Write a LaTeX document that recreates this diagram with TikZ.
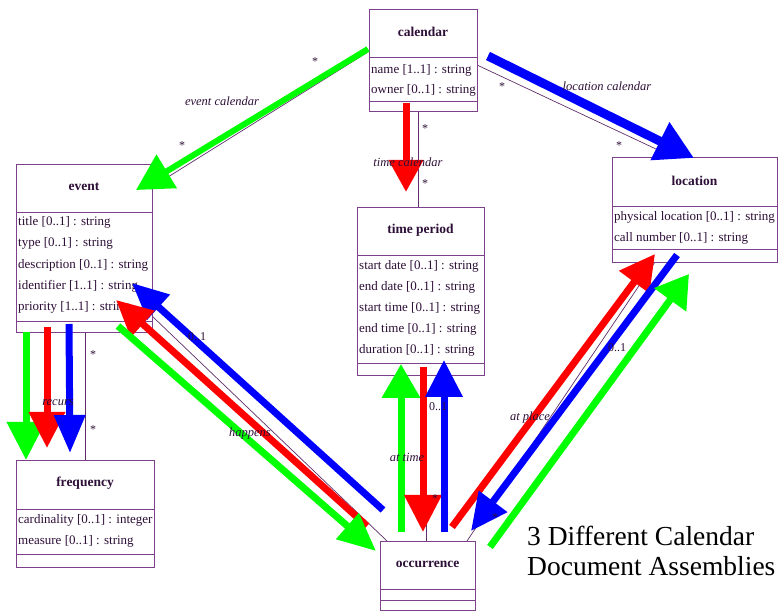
\documentclass[tikz,border=0pt]{standalone}
\usepackage{fontspec}
\setmainfont{Liberation Serif}
\usetikzlibrary{arrows.meta}

\definecolor{boxline}{RGB}{125,65,140}
\definecolor{inktext}{RGB}{45,15,55}
\definecolor{linkline}{RGB}{95,45,105}
\definecolor{fatgreen}{RGB}{0,255,0}
\definecolor{fatred}{RGB}{255,0,0}
\definecolor{fatblue}{RGB}{0,0,255}

\tikzset{
  umlbox/.style={draw=boxline, line width=0.9pt, fill=white, inner sep=0pt, anchor=north west},
  umlsep/.style={draw=boxline, line width=0.9pt},
  ctitle/.style={font=\fontsize{13.5}{15}\selectfont\bfseries, text=inktext, inner sep=0pt},
  cattr/.style={font=\fontsize{13}{15}\selectfont, text=inktext, anchor=west, inner sep=0pt},
  link/.style={draw=linkline, line width=0.7pt},
  role/.style={font=\fontsize{12.5}{14}\selectfont\itshape, text=inktext, inner sep=0pt},
  mult/.style={font=\fontsize{12}{14}\selectfont, text=inktext, inner sep=0pt},
  fat/.style={line width=7pt},
  tiphead/.style 2 args={-{Triangle[length=#1,width=#2]}},
  banner/.style={font=\fontsize{27.5}{30}\selectfont, text=black, anchor=base west, inner sep=0pt},
}

% class box: name, left, right, top, header separator, attribute separator, bottom, title
\newcommand{\classbox}[8]{%
  \node[umlbox, minimum width={(#3-#2)*1pt}, minimum height={(#7-#4)*1pt}] (#1) at (#2,#4) {};
  \draw[umlsep] (#2,#5) -- (#3,#5);
  \draw[umlsep] (#2,#6) -- (#3,#6);
  \node[ctitle] (#1-title) at ({(#2+#3)/2},{(#4+#5)/2-1}) {#8};
}

\begin{document}
\begin{tikzpicture}[x=1pt,y=-1pt]
\useasboundingbox (0,0) rectangle (780,612);

% association end points
\coordinate (calW)  at (368,52);
\coordinate (evNE)  at (152,187);
\coordinate (calS)  at (418,111);
\coordinate (tpN)   at (418,207);
\coordinate (calE)  at (477,65);
\coordinate (locN)  at (673,157);
\coordinate (evS)   at (85,332);
\coordinate (frN)   at (85,460);
\coordinate (evE)   at (152,316);
\coordinate (ocNW)  at (387,541);
\coordinate (tpS)   at (426,375);
\coordinate (ocN)   at (426,541);
\coordinate (locS)  at (655,262);
\coordinate (ocNE)  at (467,541);

% thin association lines
\draw[link] (calW) -- (evNE);
\draw[link] (calS) -- (tpN);
\draw[link] (calE) -- (locN);
\draw[link] (evS) -- (frN);
\draw[link] (evE) -- (ocNW);
\draw[link] (tpS) -- (ocN);
\draw[link] (locS) -- (ocNE);

% classes
\classbox{calendar}{369}{477}{9}{57}{101}{111}{calendar}
\node[cattr] (calendar-a1) at (371,70) {name [1..1] : string};
\node[cattr] (calendar-a2) at (371,90) {owner [0..1] : string};

\classbox{event}{16}{152}{164}{212}{321}{332}{event}
\node[cattr] (event-a1) at (18,222) {title [0..1] : string};
\node[cattr] (event-a2) at (18,243) {type [0..1] : string};
\node[cattr] (event-a3) at (18,265) {description [0..1] : string};
\node[cattr] (event-a4) at (18,286) {identifier [1..1] : string};
\node[cattr] (event-a5) at (18,307) {priority [1..1] : string};

\classbox{timeperiod}{357}{484}{207}{255}{363}{375}{time period}
\node[cattr] (timeperiod-a1) at (359,266) {start date [0..1] : string};
\node[cattr] (timeperiod-a2) at (359,287) {end date [0..1] : string};
\node[cattr] (timeperiod-a3) at (359,308) {start time [0..1] : string};
\node[cattr] (timeperiod-a4) at (359,329) {end time [0..1] : string};
\node[cattr] (timeperiod-a5) at (359,350) {duration [0..1] : string};

\classbox{location}{612}{777}{157}{206}{249}{262}{location}
\node[cattr] (location-a1) at (614,217) {physical location [0..1] : string};
\node[cattr] (location-a2) at (614,238) {call number [0..1] : string};

\classbox{frequency}{16}{154}{460}{509}{554}{567}{frequency}
\node[cattr] (frequency-a1) at (18,520) {cardinality [0..1] : integer};
\node[cattr] (frequency-a2) at (18,541) {measure [0..1] : string};

\classbox{occurrence}{380}{475}{541}{589}{600}{610}{occurrence}

% fat coloured assembly arrows
\coordinate (g1s) at (368,49);  \coordinate (g1t) at (136,190);
\coordinate (r2s) at (406,103); \coordinate (r2t) at (406,192);
\coordinate (b3s) at (488,56);  \coordinate (b3t) at (694,158);
\coordinate (g4s) at (26,332);  \coordinate (g4t) at (26,460);
\coordinate (r5s) at (47,327);  \coordinate (r5t) at (47,448);
\coordinate (b6s) at (69,324);  \coordinate (b6t) at (70,453);
\coordinate (b7s) at (383,510); \coordinate (b7t) at (132,283);
\coordinate (r8s) at (367,526); \coordinate (r8t) at (116,300);
\coordinate (g9s) at (118,326); \coordinate (g9t) at (376,551);
\coordinate (g10s) at (401,532); \coordinate (g10t) at (401,364);
\coordinate (r11s) at (423,367); \coordinate (r11t) at (423,532);
\coordinate (b12s) at (444,532); \coordinate (b12t) at (444,360);
\coordinate (r13s) at (452,527); \coordinate (r13t) at (655,254);
\coordinate (b14s) at (677,255); \coordinate (b14t) at (471,531);
\coordinate (g15s) at (490,547); \coordinate (g15t) at (689,274);

\draw[fat, fatgreen, line width=6pt, tiphead={36pt}{38pt}] (g1s) -- (g1t);
\draw[fat, fatred, tiphead={32pt}{33pt}] (r2s) -- (r2t);
\draw[fat, fatblue, line width=9pt, tiphead={38pt}{40pt}] (b3s) -- (b3t);
\draw[fat, fatgreen, tiphead={38pt}{37pt}] (g4s) -- (g4t);
\draw[fat, fatred, tiphead={36pt}{35pt}] (r5s) -- (r5t);
\draw[fat, fatblue, tiphead={38pt}{30pt}] (b6s) -- (b6t);
\draw[fat, fatblue, tiphead={36pt}{32pt}] (b7s) -- (b7t);
\draw[fat, fatred, tiphead={36pt}{34pt}] (r8s) -- (r8t);
\draw[fat, fatgreen, tiphead={38pt}{33pt}] (g9s) -- (g9t);
\draw[fat, fatgreen, tiphead={34pt}{37pt}] (g10s) -- (g10t);
\draw[fat, fatred, tiphead={37pt}{36pt}] (r11s) -- (r11t);
\draw[fat, fatblue, tiphead={37pt}{36pt}] (b12s) -- (b12t);
\draw[fat, fatred, tiphead={35pt}{36pt}] (r13s) -- (r13t);
\draw[fat, fatblue, tiphead={37pt}{34pt}] (b14s) -- (b14t);
\draw[fat, fatgreen, tiphead={32pt}{38pt}] (g15s) -- (g15t);

% role names
\node[role] (lbl-evcal)  at (222,101) {event calendar};
\node[role] (lbl-tmcal)  at (408,162) {time calendar};
\node[role] (lbl-loccal) at (607,86)  {location calendar};
\node[role] (lbl-recurs) at (58,403)  {recurs};
\node[role] (lbl-happ)   at (250,433) {happens};
\node[role] (lbl-attime) at (407,457) {at time};
\node[role] (lbl-atpl)   at (530,417) {at place};

% multiplicities
\node[mult] (m1) at (315,62)  {*};
\node[mult] (m2) at (182,146) {*};
\node[mult] (m3) at (425,129) {*};
\node[mult] (m4) at (425,184) {*};
\node[mult] (m5) at (502,87)  {*};
\node[mult] (m6) at (619,146) {*};
\node[mult] (m7) at (93,355)  {*};
\node[mult] (m8) at (93,430)  {*};
\node[mult] (m9) at (197,337) {0..1};
\node[mult] (m10) at (438,407) {0..1};
\node[mult] (m11) at (435,499) {*};
\node[mult] (m12) at (617,348) {0..1};
\node[mult] (m13) at (495,518) {*};

% caption
\node[banner] (cap1) at (527,545) {3 Different Calendar};
\node[banner] (cap2) at (527,575) {Document Assemblies};
\end{tikzpicture}
\end{document}
